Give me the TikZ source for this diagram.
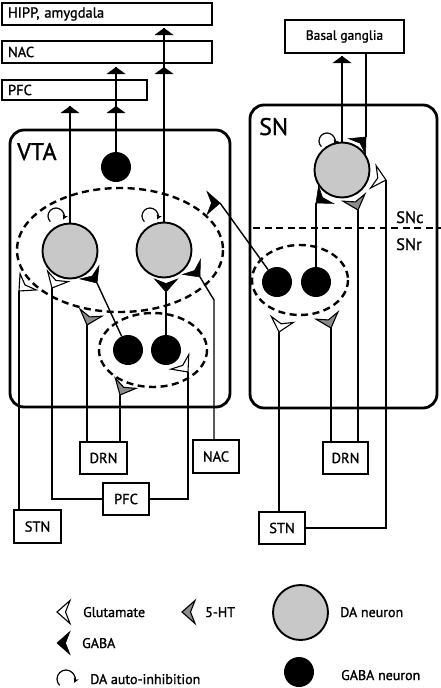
\documentclass[tikz,border=0pt]{standalone}
\usepackage{fontspec}
\setmainfont{PT Sans}[RawFeature={embolden=1.2}]
\usetikzlibrary{arrows.meta}
\definecolor{dafill}{RGB}{200,200,200}
\definecolor{htfill}{RGB}{140,140,140}
\tikzset{
  conn/.style={line width=1.4pt},
  bigbox/.style={line width=2.8pt, rounded corners=14pt},
  lbl/.style={font=\fontsize{14}{16}\selectfont, inner sep=0pt},
  sbox/.style={draw, line width=2.5pt, inner sep=0pt, font=\fontsize{14.5}{16}\selectfont},
  dashl/.style={line width=2.4pt, dash pattern=on 7pt off 4.5pt},
  daN/.style={circle, draw, line width=1.9pt, fill=dafill, minimum size=55pt, inner sep=0pt},
  gabaN/.style={circle, fill=black, minimum size=30pt, inner sep=0pt},
  autoinh/.style={line width=1.2pt, -{Stealth[length=5pt,width=5.5pt]}},
  glu/.pic={\draw[line width=1.1pt, fill=white, line join=miter] (0,0) -- (13,11.5) -- (8.5,0) -- (13,-11.5) -- cycle;},
  ht/.pic={\draw[line width=1.1pt, fill=htfill, line join=miter] (0,0) -- (13,11.5) -- (8.5,0) -- (13,-11.5) -- cycle;},
  gab/.pic={\filldraw[line width=0.6pt, line join=miter] (0,0) -- (13,11.5) -- (8.5,0) -- (13,-11.5) -- cycle;},
  upar/.pic={\fill (0,0) -- (9.5,7) -- (-9.5,7) -- cycle;}
}
\begin{document}
\begin{tikzpicture}[x=1pt,y=-1pt]
\useasboundingbox (0,0) rectangle (441,688);

% ---- dashed groupings
\draw[dashl] (120,250) ellipse [x radius=103, y radius=62];
\draw[dashl] (153,350) ellipse [x radius=54, y radius=37];
\draw[dashl] (300,280) ellipse [x radius=48, y radius=35];
\draw[dashl] (253,228) -- (441,228);

% ---- region boxes
\draw[bigbox] (10,130) rectangle (230,407);
\draw[bigbox] (250,105) rectangle (437,408);
\node[anchor=base west, font=\fontsize{24}{26}\selectfont, inner sep=0pt] (vtal) at (17,160) {VTA};
\node[anchor=base west, font=\fontsize{24}{26}\selectfont, inner sep=0pt] (snl) at (259,135) {SN};
\node[anchor=base west, font=\fontsize{16.5}{18}\selectfont, inner sep=0pt] (snc) at (396,223) {SNc};
\node[anchor=base west, font=\fontsize{16.5}{18}\selectfont, inner sep=0pt] (snr) at (396,250) {SNr};

% ---- target boxes (top)
\node[sbox, minimum width=210pt, minimum height=22pt, text width=198pt, align=left, inner xsep=6pt] (hipp) at (107,14) {HIPP, amygdala};
\node[sbox, minimum width=210pt, minimum height=22pt, text width=198pt, align=left, inner xsep=6pt] (nact) at (107,52) {NAC};
\node[sbox, minimum width=145pt, minimum height=20pt, text width=133pt, align=left, inner xsep=6pt] (pfct) at (74.5,90) {PFC};
\node[sbox, minimum width=119pt, minimum height=33pt, font=\fontsize{13.5}{15}\selectfont] (bg) at (344.5,36.5) {Basal ganglia};

% ---- input boxes (bottom)
\node[sbox, minimum width=47pt, minimum height=32pt] (drnv) at (103.5,458) {DRN};
\node[sbox, minimum width=46pt, minimum height=32pt] (pfcb) at (126,499) {PFC};
\node[sbox, minimum width=46pt, minimum height=33pt] (nacb) at (216,456.5) {NAC};
\node[sbox, minimum width=47pt, minimum height=33pt] (stnv) at (37.5,526.5) {STN};
\node[sbox, minimum width=45pt, minimum height=32pt] (drns) at (345.5,458) {DRN};
\node[sbox, minimum width=46pt, minimum height=32pt] (stns) at (282,528) {STN};

% ---- neurons
\node[daN] (da1) at (70,251) {};
\node[daN] (da2) at (164,250) {};
\node[gabaN] (gt) at (116,167) {};
\node[gabaN] (g1) at (128,350) {};
\node[gabaN] (g2) at (166,350) {};
\node[daN] (snda) at (342,170) {};
\node[gabaN] (sg1) at (277,282) {};
\node[gabaN] (sg2) at (316,282) {};

% ---- coordinates
\coordinate (aP1) at (70,106);
\coordinate (aP2) at (116,106);
\coordinate (aN2) at (116,67);
\coordinate (aN3) at (164,67);
\coordinate (aH3) at (164,28);
\coordinate (aBG) at (342,56);
\coordinate (tA) at (19,291);
\coordinate (tB) at (52,288);
\coordinate (tC) at (97,283);
\coordinate (tD) at (166,292);
\coordinate (tE) at (200,277);
\coordinate (nacK) at (214,300);
\coordinate (tF) at (220,203);
\coordinate (tG) at (188,372);
\coordinate (tH) at (87,325);
\coordinate (tI) at (120,395);
\coordinate (tJ) at (279,332);
\coordinate (tK) at (331,328);
\coordinate (tL) at (358,210);
\coordinate (tM) at (386,180);
\coordinate (tN) at (366,137);
\coordinate (tO) at (316,203);

% ---- output projections
\draw[conn] (da1.north) -- (aP1);
\draw[conn] (gt.north) -- (aN2);
\draw[conn] (da2.north) -- (aH3);
\draw[conn] (snda.north) -- (aBG);
\foreach \c in {aP1,aP2,aN2,aN3,aH3,aBG} \pic at (\c) {upar};

% ---- input connections VTA
\draw[conn] (stnv.north -| tA) -- (tA);
\draw[conn] (pfcb.west) -| (tB);
\draw[conn] (g1) -- (tC);
\draw[conn] (g2.north) -- (tD);
\draw[conn] (nacb.north -| nacK) -- (nacK) -- (tE);
\draw[conn] (sg1) -- (tF);
\draw[conn] (pfcb.east) -| (tG);
\draw[conn] (drnv.north -| tH) -- (tH);
\draw[conn] (drnv.north -| tI) -- (tI);

% ---- input connections SN
\draw[conn] (stns.north -| tJ) -- (tJ);
\draw[conn] (stns.east) -| (tM);
\draw[conn] (drns.north -| tK) -- (tK);
\draw[conn] (drns.north -| tL) -- (tL);
\draw[conn] (sg2.north) -- (tO);
\draw[conn] (bg.south -| tN) -- (tN);

% ---- synapses
\pic[rotate=45] at (tA) {glu};
\pic[rotate=63] at (tB) {glu};
\pic[rotate=125] at (tC) {gab};
\pic[rotate=90] at (tD) {gab};
\pic[rotate=130] at (tE) {gab};
\pic[rotate=180] at (tF) {gab};
\pic[rotate=129] at (tG) {glu};
\pic[rotate=72] at (tH) {ht};
\pic[rotate=64] at (tI) {ht};
\pic[rotate=75] at (tJ) {glu};
\pic[rotate=108] at (tK) {ht};
\pic[rotate=108] at (tL) {ht};
\pic[rotate=166] at (tM) {glu};
\pic[rotate=227] at (tN) {gab};
\pic[rotate=40] at (tO) {gab};

% ---- auto-inhibition
\draw[autoinh] (56,216) ++(135:8) arc[start angle=135, end angle=385, radius=8];
\draw[autoinh] (150,216) ++(135:8) arc[start angle=135, end angle=385, radius=8];
\draw[autoinh] (327,141) ++(135:8) arc[start angle=135, end angle=385, radius=8];

% ---- legend
\pic at (57,612) {glu};
\node[lbl, anchor=base west] (lglu) at (83,617) {Glutamate};
\pic at (182,612) {ht};
\node[lbl, anchor=base west] (lht) at (205,617) {5-HT};
\pic at (57,643) {gab};
\node[lbl, anchor=base west] (lgab) at (82,648) {GABA};
\draw[autoinh] (66,679) ++(135:9) arc[start angle=135, end angle=385, radius=9];
\node[lbl, anchor=base west] (lauto) at (90,684) {DA auto-inhibition};
\node[daN] (lda) at (300.5,612.5) {};
\node[lbl, anchor=base west] (ldat) at (340,617) {DA neuron};
\node[gabaN] (lgn) at (299,672) {};
\node[lbl, anchor=base west] (lgnt) at (341,680) {GABA neuron};
\end{tikzpicture}
\end{document}
